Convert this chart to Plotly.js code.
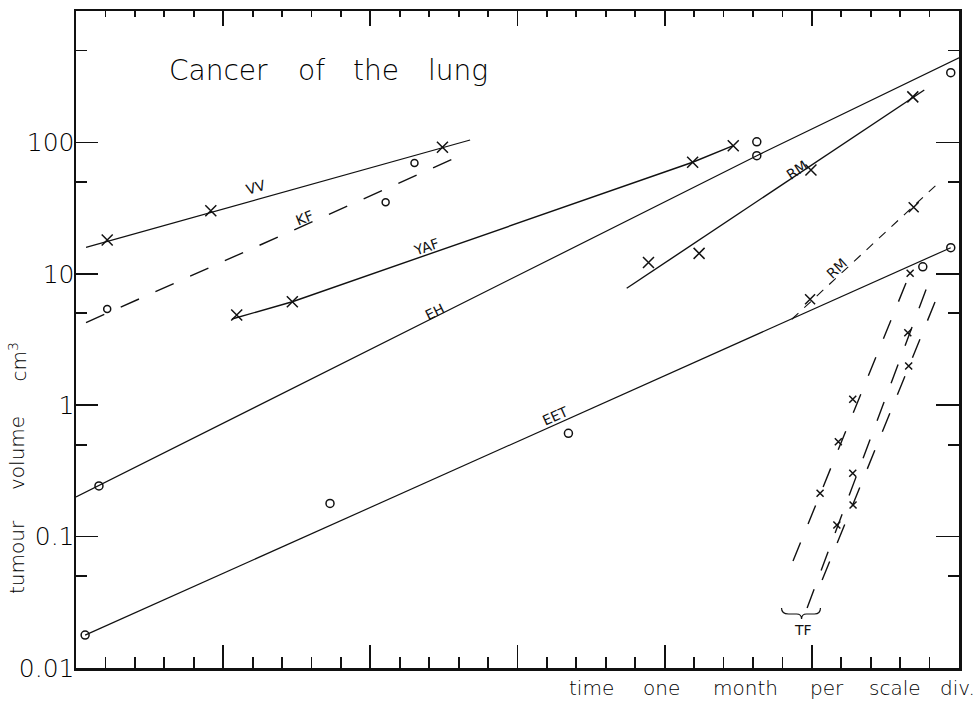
<!DOCTYPE html>
<html>
<head>
<meta charset="utf-8">
<script src="https://cdn.plot.ly/plotly-3.0.1.min.js"></script>
<style>html,body{margin:0;padding:0;background:#fff;}#chart{width:974px;height:701px;}</style>
</head>
<body>
<div id="chart"></div>
<script>
// time in months (one scale division = one month), tumour volume in cm3
const vvLineX = [0.34, 13.39];
const vvLineY = [15.9, 104.3];
const vvX = [1.06, 4.58, 12.45];
const vvY = [18.1, 30.2, 91.8];

const kfLineX = [0.34, 13.24];
const kfLineY = [4.25, 82.6];
const kfX = [1.06, 10.52, 11.50];
const kfY = [5.40, 35.0, 69.7];

const yafLineX = [5.30, 7.35, 20.95, 22.33];
const yafLineY = [4.53, 6.13, 70.6, 94.4];
const yafX = [5.46, 7.35, 20.95, 22.33];
const yafY = [4.86, 6.13, 70.6, 94.4];

const ehLineX = [0.0, 23.13, 30.0];
const ehLineY = [0.200, 79.2, 440];
const ehX = [0.78, 23.13, 23.13, 29.72];
const ehY = [0.243, 79.2, 101, 339];

const eetLineX = [0.31, 29.72];
const eetLineY = [0.0178, 15.8];
const eetX = [0.31, 8.63, 16.73, 28.77, 29.72];
const eetY = [0.0178, 0.179, 0.611, 11.3, 15.8];

const rmLineX = [18.71, 28.82];
const rmLineY = [7.76, 250.6];
const rmX = [19.45, 21.17, 24.97, 28.43];
const rmY = [12.2, 14.3, 61.6, 222];

const rm2LineX = [24.32, 29.30];
const rm2LineY = [4.51, 49.1];
const rm2X = [24.94, 28.46];
const rm2Y = [6.40, 32.1];

const tfALineX = [24.36, 28.27];
const tfALineY = [0.0652, 9.29];
const tfAX = [25.28, 25.90, 26.39, 28.34];
const tfAY = [0.214, 0.527, 1.11, 10.1];

const tfBLineX = [24.84, 28.96];
const tfBLineY = [0.0286, 8.47];
const tfBX = [25.85, 26.39, 28.26];
const tfBY = [0.1225, 0.303, 3.56];

const tfCLineX = [25.35, 29.19];
const tfCLineY = [0.0467, 6.13];
const tfCX = [26.40, 28.29];
const tfCY = [0.174, 1.99];

const yTickVals = [0.01, 0.1, 1, 10, 100];
const yTickText = ['0.01', '0.1', '1', '10', '100'];
const yMinorVals = [0.05, 0.5, 5, 50, 500];

const titleWords = ['Cancer', 'of', 'the', 'lung'];
const xTitleWords = ['time', 'one', 'month', 'per', 'scale', 'div.'];
const yTitleWords = ['tumour', 'volume', 'cm<sup>3</sup>'];

const INK = '#111';

function line(x, y, dash, w) {
  return {x: x, y: y, mode: 'lines', type: 'scatter', hoverinfo: 'skip', showlegend: false,
          line: {color: INK, width: w || 1.2, dash: dash || 'solid'}};
}
function pts(x, y, sym, size) {
  return {x: x, y: y, mode: 'markers', type: 'scatter', hoverinfo: 'skip', showlegend: false,
          marker: {symbol: sym, size: size, color: INK, line: {color: INK, width: 1.5}}};
}

const data = [
  line(vvLineX, vvLineY), pts(vvX, vvY, 'x-thin-open', 11),
  line(kfLineX, kfLineY, '20px,18px', 1.4), pts(kfX, kfY, 'circle-open', 7),
  line(yafLineX, yafLineY, 'solid', 1.4), pts(yafX, yafY, 'x-thin-open', 11),
  line(ehLineX, ehLineY), pts(ehX, ehY, 'circle-open', 8),
  line(eetLineX, eetLineY), pts(eetX, eetY, 'circle-open', 8),
  line(rmLineX, rmLineY, 'solid', 1.4), pts(rmX, rmY, 'x-thin-open', 11),
  line(rm2LineX, rm2LineY, '9px,8px', 1.1), pts(rm2X, rm2Y, 'x-thin-open', 10),
  line(tfALineX, tfALineY, '20px,20px', 1.4), pts(tfAX, tfAY, 'x-thin-open', 7),
  line(tfBLineX, tfBLineY, '20px,20px', 1.4), pts(tfBX, tfBY, 'x-thin-open', 7),
  line(tfCLineX, tfCLineY, '20px,20px', 1.4), pts(tfCX, tfCY, 'x-thin-open', 7),
  {x: [], y: [], xaxis: 'x2', yaxis: 'y2', type: 'scatter', mode: 'lines', showlegend: false, hoverinfo: 'skip'}
];

const FONT = 'DejaVu Sans, sans-serif';
const LIGHT = {family: FONT, weight: 200, color: '#000'};

function lbl(text, x, y, ang, size) {
  return {text: text, xref: 'paper', yref: 'paper', x: x, y: y, xanchor: 'center', yanchor: 'middle',
          showarrow: false, textangle: ang, font: {family: FONT, size: size || 14, color: INK}};
}
// pixel helpers for layout placement only (plot area 76..959 x 11..668)
const px = v => (v - 76) / 883;
const py = v => (668 - v) / 657;

const annotations = [];
const titleLeft = [167, 296, 351, 426];
titleWords.forEach((w, i) => annotations.push({text: w, xref: 'paper', yref: 'paper', x: px(titleLeft[i]), y: py(70),
  xanchor: 'left', yanchor: 'middle', showarrow: false, font: Object.assign({size: 28}, LIGHT)}));
const xTitleLeft = [567, 641, 711, 808, 867, 938];
xTitleWords.forEach((w, i) => annotations.push({text: w, xref: 'paper', yref: 'paper', x: px(xTitleLeft[i]), y: py(688),
  xanchor: 'left', yanchor: 'middle', showarrow: false, font: Object.assign({size: 20}, LIGHT)}));
const yTitleBottom = [596, 492, 384];
yTitleWords.forEach((w, i) => annotations.push({text: w, xref: 'paper', yref: 'paper', x: px(17), y: py(yTitleBottom[i]),
  xanchor: 'center', yanchor: 'bottom', textangle: -90, showarrow: false, font: Object.assign({size: 20}, LIGHT)}));
annotations.push(
  lbl('VV', 0.2042, 0.7326, -16),
  lbl('KF', 0.2586, 0.6845, -22),
  lbl('YAF', 0.3964, 0.6413, -19),
  lbl('EH', 0.4058, 0.5423, -26),
  lbl('EET', 0.5425, 0.3836, -24),
  lbl('RM', 0.8162, 0.758, -34),
  lbl('RM', 0.8622, 0.6084, -43),
  lbl('TF', 0.8233, 0.0578, 0)
);

const layout = {
  width: 974, height: 701,
  margin: {l: 76, r: 15, t: 11, b: 33, pad: 0},
  paper_bgcolor: '#fff', plot_bgcolor: '#fff',
  showlegend: false,
  font: {family: FONT, color: INK},
  xaxis: {
    range: [0, 30], showgrid: false, zeroline: false,
    showline: true, linecolor: INK, linewidth: 2.5, mirror: true,
    ticks: 'inside', tick0: 0, dtick: 5, ticklen: 23, tickwidth: 1.8, tickcolor: INK,
    showticklabels: false,
    minor: {dtick: 1, tick0: 0, ticks: 'inside', ticklen: 11, tickwidth: 1.8, tickcolor: INK, showgrid: false}
  },
  xaxis2: {
    range: [0, 30], overlaying: 'x', side: 'top', anchor: 'y', showgrid: false, zeroline: false,
    showline: false, ticks: 'inside', tick0: 0, dtick: 5, ticklen: 15, tickwidth: 1.8, tickcolor: INK,
    showticklabels: false,
    minor: {dtick: 1, tick0: 0, ticks: 'inside', ticklen: 6, tickwidth: 1.8, tickcolor: INK, showgrid: false}
  },
  yaxis: {
    type: 'log', range: [-2, 3], showgrid: false, zeroline: false,
    showline: true, linecolor: INK, linewidth: 2.5, mirror: true,
    ticks: 'inside', tickmode: 'array', tickvals: yTickVals, ticktext: yTickText,
    ticklen: 22, tickwidth: 1.8, tickcolor: INK, ticklabelstandoff: -6,
    tickfont: {family: FONT, size: 25, weight: 200, color: '#000'},
    minor: {tickmode: 'array', tickvals: yMinorVals, ticks: 'inside', ticklen: 11, tickwidth: 1.8, tickcolor: INK, showgrid: false}
  },
  yaxis2: {
    type: 'log', range: [-2, 3], overlaying: 'y', side: 'right', anchor: 'x', showgrid: false, zeroline: false,
    showline: false, ticks: 'inside', tickmode: 'array', tickvals: yTickVals,
    ticklen: 23, tickwidth: 1.8, tickcolor: INK, showticklabels: false,
    minor: {tickmode: 'array', tickvals: yMinorVals, ticks: 'inside', ticklen: 11, tickwidth: 1.8, tickcolor: INK, showgrid: false}
  },
  annotations: annotations,
  shapes: [
    {type: 'path', xref: 'paper', yref: 'paper', line: {color: INK, width: 1.2},
     path: 'M 0.7990 0.0913 Q 0.7990 0.0822 0.8070 0.0822 L 0.8160 0.0822 Q 0.8217 0.0822 0.8217 0.0746 Q 0.8217 0.0822 0.8273 0.0822 L 0.8363 0.0822 Q 0.8431 0.0822 0.8431 0.0913'}
  ]
};

Plotly.newPlot('chart', data, layout, {staticPlot: true, displayModeBar: false});
</script>
</body>
</html>
